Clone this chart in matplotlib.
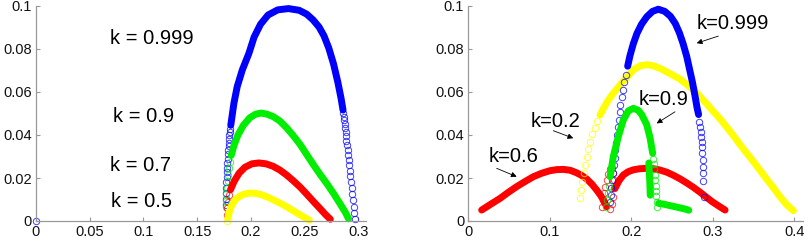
import matplotlib
matplotlib.use("Agg")
import matplotlib.pyplot as plt

plt.rcParams['font.family'] = ['Liberation Sans', 'DejaVu Sans']

# ---------------- left panel (k = 0.999, 0.9, 0.7, 0.5) ----------------
# blue, k = 0.999 : dense arc + sparse circles on both legs
L_blue_band_x = [0.1813, 0.1842, 0.1873, 0.192, 0.1982, 0.203, 0.209, 0.216, 0.225, 0.235,
                 0.245, 0.252, 0.258, 0.2635, 0.268, 0.2725, 0.277, 0.281, 0.284, 0.2858]
L_blue_band_y = [0.0445, 0.0547, 0.0625, 0.0702, 0.078, 0.0855, 0.0915, 0.0958, 0.0982, 0.0988,
                 0.098, 0.0962, 0.0935, 0.0902, 0.0862, 0.0805, 0.073, 0.0645, 0.057, 0.0516]
L_blue_dot_x = [0.0, 0.1764, 0.1766, 0.1768, 0.177, 0.1772, 0.1774, 0.1776, 0.1778, 0.178, 0.1783,
                0.1786, 0.1789, 0.1792, 0.1795, 0.1798, 0.1801, 0.1805, 0.1809,
                0.2862, 0.2866, 0.287, 0.2874, 0.2878, 0.2882, 0.2886, 0.289, 0.2895, 0.29,
                0.2905, 0.291, 0.2915, 0.292, 0.2926, 0.2932, 0.2938, 0.2944, 0.295, 0.2957,
                0.2964, 0.297]
L_blue_dot_y = [0.0, 0.0074, 0.0101, 0.0129, 0.0155, 0.018, 0.0203, 0.0226, 0.0248, 0.027, 0.029,
                0.031, 0.0329, 0.0347, 0.0364, 0.0381, 0.0399, 0.0414, 0.0429,
                0.0501, 0.0485, 0.0468, 0.0451, 0.0433, 0.0414, 0.0394, 0.0374, 0.0352, 0.033,
                0.0307, 0.0284, 0.0259, 0.0234, 0.0208, 0.0181, 0.0153, 0.0126, 0.0096, 0.0067,
                0.0036, 0.0008]

# green, k = 0.9
L_green_band_x = [0.1817, 0.1845, 0.188, 0.193, 0.199, 0.2045, 0.2095, 0.215, 0.221, 0.227,
                  0.233, 0.239, 0.246, 0.2525, 0.2585, 0.2647, 0.271, 0.277, 0.2833, 0.288, 0.291]
L_green_band_y = [0.0305, 0.0355, 0.040, 0.0445, 0.048, 0.0497, 0.0502, 0.0497, 0.0485, 0.0465,
                  0.0435, 0.040, 0.0355, 0.0305, 0.026, 0.0215, 0.0172, 0.0128, 0.0078, 0.004, 0.001]
L_green_dot_x = [0.1764, 0.1768, 0.1772, 0.1777, 0.1783, 0.179, 0.1798, 0.1807]
L_green_dot_y = [0.0065, 0.0095, 0.0125, 0.0155, 0.0185, 0.0215, 0.0245, 0.0275]

# red, k = 0.7
L_red_band_x = [0.181, 0.1845, 0.189, 0.1945, 0.201, 0.2075, 0.214, 0.2205, 0.227, 0.2335,
                0.240, 0.246, 0.252, 0.258, 0.264, 0.2695, 0.274]
L_red_band_y = [0.0145, 0.0185, 0.0222, 0.025, 0.0266, 0.027, 0.0266, 0.0255, 0.0237, 0.0213,
                0.0185, 0.0157, 0.0125, 0.0092, 0.006, 0.003, 0.0008]
L_red_dot_x = [0.1775, 0.178, 0.1788, 0.1798]
L_red_dot_y = [0.003, 0.006, 0.009, 0.012]

# yellow, k = 0.5
L_yel_band_x = [0.1785, 0.1795, 0.1815, 0.1845, 0.188, 0.193, 0.1985, 0.204, 0.210, 0.216,
                0.222, 0.228, 0.234, 0.240, 0.246, 0.2515, 0.2545]
L_yel_band_y = [0.001, 0.0035, 0.0065, 0.0092, 0.011, 0.0124, 0.013, 0.0129, 0.0122, 0.011,
                0.0096, 0.0081, 0.0064, 0.0046, 0.0028, 0.0012, 0.0004]
L_yel_dot_x = [0.1775]
L_yel_dot_y = [0.0002]

# ---------------- right panel (k = 0.999, 0.9, 0.6, 0.2) ----------------
R_blue_band_x = [0.1955, 0.1984, 0.2025, 0.207, 0.2125, 0.219, 0.226, 0.2331, 0.241, 0.248,
                 0.254, 0.259, 0.2635, 0.268, 0.2715, 0.275, 0.278, 0.2805, 0.2825]
R_blue_band_y = [0.072, 0.077, 0.0825, 0.0873, 0.0915, 0.095, 0.0975, 0.0985, 0.0975, 0.0952,
                 0.0918, 0.0875, 0.0825, 0.0765, 0.0705, 0.0645, 0.0585, 0.053, 0.0495]
R_blue_dot_x = [0.193, 0.191, 0.1895, 0.188, 0.1867, 0.1855, 0.1845, 0.1835, 0.1825, 0.1815,
                0.1805, 0.1795, 0.1785, 0.1775, 0.1765, 0.1755, 0.1745, 0.1738,
                0.2835, 0.2843, 0.2851, 0.2855, 0.2863, 0.2867, 0.2871, 0.2876, 0.288, 0.2884,
                0.2884, 0.2892]
R_blue_dot_y = [0.068, 0.0645, 0.061, 0.0575, 0.054, 0.0505, 0.047, 0.0435, 0.040, 0.0365,
                0.033, 0.0295, 0.026, 0.0225, 0.019, 0.0155, 0.012, 0.009,
                0.0462, 0.0439, 0.0415, 0.0392, 0.0369, 0.0343, 0.0315, 0.0284, 0.0253, 0.0222,
                0.0187, 0.0113]

R_green_band_x = [0.1739, 0.1779, 0.184, 0.1902, 0.1963, 0.2025, 0.2085, 0.2127, 0.2189,
                  0.2229, 0.2262]
R_green_band_y = [0.0206, 0.0299, 0.0392, 0.047, 0.0512, 0.0524, 0.0515, 0.0495, 0.0448,
                  0.0388, 0.0315]
R_green_bar_x = [0.2215, 0.2222, 0.2228, 0.2232]
R_green_bar_y = [0.027, 0.022, 0.017, 0.012]
R_green_tail_x = [0.2335, 0.24, 0.247, 0.254, 0.261, 0.2675, 0.2705]
R_green_tail_y = [0.0082, 0.0078, 0.0072, 0.0066, 0.006, 0.0054, 0.005]
R_green_dot_x = [0.1695, 0.1705, 0.1715, 0.1725,
                 0.2268, 0.2274, 0.228, 0.2286, 0.2292, 0.2297, 0.2302, 0.2306, 0.231, 0.2313]
R_green_dot_y = [0.0065, 0.0098, 0.013, 0.0165,
                 0.029, 0.0265, 0.024, 0.0215, 0.019, 0.0165, 0.014, 0.0115, 0.009, 0.0065]

R_red_band1_x = [0.0164, 0.0275, 0.0389, 0.049, 0.0594, 0.0698, 0.0798, 0.090, 0.1002, 0.1085,
                 0.1166, 0.125, 0.133, 0.139, 0.145, 0.1515, 0.1575, 0.1625, 0.1656, 0.1697]
R_red_band1_y = [0.0051, 0.0078, 0.0105, 0.0133, 0.016, 0.0184, 0.0206, 0.0222, 0.0234, 0.0239,
                 0.024, 0.0236, 0.0224, 0.0212, 0.0196, 0.0172, 0.0144, 0.0118, 0.0098, 0.0067]
R_red_band2_x = [0.18, 0.185, 0.1902, 0.196, 0.2025, 0.21, 0.2189, 0.2275, 0.2352, 0.2435,
                 0.2515, 0.2598, 0.268, 0.276, 0.2843, 0.292, 0.2995, 0.3075, 0.315]
R_red_band2_y = [0.0152, 0.0188, 0.0214, 0.0229, 0.0238, 0.0243, 0.0245, 0.0243, 0.0237, 0.0227,
                 0.0213, 0.0196, 0.0177, 0.0157, 0.0134, 0.0111, 0.0089, 0.0069, 0.0051]
R_red_dot_x = [0.1637, 0.1649, 0.1665, 0.1681, 0.1698, 0.1718, 0.1739, 0.1763, 0.1779, 0.1788,
               0.1788, 0.1779, 0.1767, 0.1739]
R_red_dot_y = [0.0067, 0.0098, 0.0129, 0.016, 0.0191, 0.0219, 0.024, 0.0245, 0.0225, 0.0191,
               0.0152, 0.0113, 0.0079, 0.0054]

R_yel_band_x = [0.1616, 0.166, 0.171, 0.1765, 0.1825, 0.189, 0.196, 0.203, 0.211, 0.219, 0.227,
                0.235, 0.2434, 0.2515, 0.2598, 0.268, 0.276, 0.284, 0.292, 0.300, 0.3088, 0.317,
                0.325, 0.333, 0.3416, 0.350, 0.358, 0.366, 0.3742, 0.382, 0.390, 0.3988]
R_yel_band_y = [0.0493, 0.0525, 0.0558, 0.0588, 0.0615, 0.0645, 0.0675, 0.0705, 0.0722, 0.0727,
                0.0722, 0.071, 0.0694, 0.0677, 0.066, 0.0635, 0.061, 0.058, 0.0547, 0.0512,
                0.0475, 0.0437, 0.0398, 0.0357, 0.0315, 0.0275, 0.0235, 0.0195, 0.0155, 0.0115,
                0.0078, 0.0048]
R_yel_dot_x = [0.137, 0.1383, 0.1399, 0.1416, 0.1432, 0.1453, 0.1472, 0.1497, 0.1521, 0.1551,
               0.1583]
R_yel_dot_y = [0.0106, 0.0144, 0.0183, 0.0222, 0.026, 0.0299, 0.0335, 0.0369, 0.0403, 0.0434,
               0.0464]

left_labels = ["k = 0.999", "k = 0.9", "k = 0.7", "k = 0.5"]
left_label_x = [0.108, 0.100, 0.097, 0.098]
left_label_y = [0.085, 0.0485, 0.026, 0.0093]

right_labels = ["k=0.999", "k=0.9", "k=0.2", "k=0.6"]
right_text_xy = [(0.3247, 0.092), (0.2401, 0.0563), (0.1074, 0.0462), (0.0561, 0.0299)]
right_tail_xy = [(0.3067, 0.086), (0.2536, 0.0508), (0.1043, 0.042), (0.0348, 0.0245)]
right_head_xy = [(0.2802, 0.0827), (0.2311, 0.0454), (0.1288, 0.0385), (0.0594, 0.0206)]

BLUE, GREEN, RED, YELLOW = '#0000ff', '#00ee00', '#ff0000', '#ffff00'
MS = 4.6


def band(ax, x, y, c):
    # dense stretch of circles -> thick solid stroke
    ax.plot(x, y, '-', color=c, lw=5.0, solid_capstyle='round', solid_joinstyle='round',
            clip_on=False, zorder=2)


def dots(ax, x, y, c):
    ax.plot(x, y, 'o', mfc='none', mec=c, ms=MS, mew=0.7, alpha=0.75,
            clip_on=False, zorder=2)


def style(ax, xmax, xticks, xlabels):
    ax.set_xlim(0, xmax)
    ax.set_ylim(0, 0.1)
    for s in ['top', 'right']:
        ax.spines[s].set_visible(False)
    for s in ['left', 'bottom']:
        ax.spines[s].set_color('#999999')
        ax.spines[s].set_linewidth(0.9)
    ax.set_xticks(xticks)
    ax.set_xticklabels(xlabels)
    ax.set_yticks([0, 0.02, 0.04, 0.06, 0.08, 0.1])
    ax.set_yticklabels(['0', '0.02', '0.04', '0.06', '0.08', '0.1'])
    ax.tick_params(direction='in', length=3, color='#999999', labelsize=10.5,
                   labelcolor='#111111', pad=3)


fig = plt.figure(figsize=(8.09, 2.41), dpi=100)
ax1 = fig.add_axes([36 / 809, 20 / 241, (365.8 - 36) / 809, 215 / 241])
ax2 = fig.add_axes([468.3 / 809, 20 / 241, (802.5 - 468.3) / 809, 215 / 241])

# left panel
band(ax1, L_blue_band_x, L_blue_band_y, BLUE)
dots(ax1, L_blue_dot_x, L_blue_dot_y, BLUE)
band(ax1, L_green_band_x, L_green_band_y, GREEN)
dots(ax1, L_green_dot_x, L_green_dot_y, GREEN)
band(ax1, L_red_band_x, L_red_band_y, RED)
dots(ax1, L_red_dot_x, L_red_dot_y, RED)
band(ax1, L_yel_band_x, L_yel_band_y, YELLOW)
dots(ax1, L_yel_dot_x, L_yel_dot_y, YELLOW)
for t, x, y in zip(left_labels, left_label_x, left_label_y):
    ax1.text(x, y, t, fontsize=14.5, ha='center', va='center')
style(ax1, 0.307, [0, 0.05, 0.1, 0.15, 0.2, 0.25, 0.3],
      ['0', '0.05', '0.1', '0.15', '0.2', '0.25', '0.3'])

# right panel
band(ax2, R_red_band1_x, R_red_band1_y, RED)
band(ax2, R_red_band2_x, R_red_band2_y, RED)
dots(ax2, R_red_dot_x, R_red_dot_y, RED)
band(ax2, R_yel_band_x, R_yel_band_y, YELLOW)
dots(ax2, R_yel_dot_x, R_yel_dot_y, YELLOW)
band(ax2, R_blue_band_x, R_blue_band_y, BLUE)
dots(ax2, R_blue_dot_x, R_blue_dot_y, BLUE)
band(ax2, R_green_band_x, R_green_band_y, GREEN)
band(ax2, R_green_bar_x, R_green_bar_y, GREEN)
band(ax2, R_green_tail_x, R_green_tail_y, GREEN)
dots(ax2, R_green_dot_x, R_green_dot_y, GREEN)
for t, txy, tail, head in zip(right_labels, right_text_xy, right_tail_xy, right_head_xy):
    ax2.text(txy[0], txy[1], t, fontsize=14.5, ha='center', va='center')
    ax2.annotate('', xy=head, xytext=tail,
                 arrowprops=dict(arrowstyle='-|>', color='black', lw=0.6,
                                 mutation_scale=8, shrinkA=0, shrinkB=0))
style(ax2, 0.41, [0, 0.1, 0.2, 0.3, 0.4], ['0', '0.1', '0.2', '0.3', '0.4'])

fig.savefig('out.png', dpi=100)
